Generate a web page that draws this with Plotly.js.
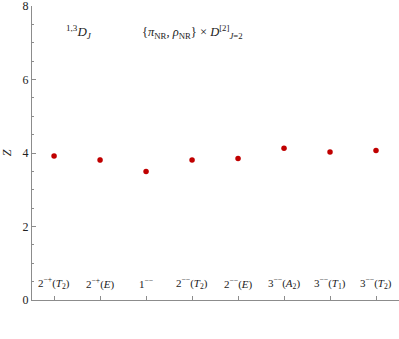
<!DOCTYPE html>
<html>
<head>
<meta charset="utf-8">
<script src="https://cdn.plot.ly/plotly-3.0.1.min.js"></script>
<style>body{margin:0;} #plot{width:399px;height:339px;}</style>
</head>
<body>
<div id="plot"></div>
<script>
var states = ['2<sup>−+</sup>(<i>T</i><sub>2</sub>)', '2<sup>−+</sup>(<i>E</i>)', '1<sup>−−</sup>',
  '2<sup>−−</sup>(<i>T</i><sub>2</sub>)', '2<sup>−−</sup>(<i>E</i>)', '3<sup>−−</sup>(<i>A</i><sub>2</sub>)',
  '3<sup>−−</sup>(<i>T</i><sub>1</sub>)', '3<sup>−−</sup>(<i>T</i><sub>2</sub>)'];
var zVals = [3.92, 3.81, 3.50, 3.81, 3.85, 4.13, 4.03, 4.07];
var zErr = [0.02, 0.04, 0.02, 0.02, 0.02, 0.02, 0.02, 0.02];
var yTicks = [0, 2, 4, 6, 8];
var xIdx = [];
for (i = 0; i < states.length; i++) {
  xIdx.push(i);
}

var serif = 'Liberation Serif, Times New Roman, serif';
var axisCol = '#8c8c8c';

var pts = {
  x: xIdx,
  y: zVals,
  mode: 'markers',
  type: 'scatter',
  marker: {color: '#c00000', size: 5.5},
  error_y: {type: 'data', array: zErr, color: '#c00000', thickness: 1.5, width: 1.5},
  showlegend: false
};

var notes = [];
for (i = 0; i < states.length; i++) {
  notes.push({
    x: xIdx[i], y: 0.46, xref: 'x', yref: 'y', text: states[i],
    showarrow: false, font: {family: serif, size: 11, color: '#222'}
  });
}
notes.push({
  x: 0.087, y: 0.91, xref: 'paper', yref: 'paper', xanchor: 'left', yanchor: 'middle',
  text: '<sup>1,3</sup><i>D<sub>J</sub></i>', showarrow: false,
  font: {family: serif, size: 13, color: '#222'}
});
notes.push({
  x: 0.294, y: 0.91, xref: 'paper', yref: 'paper', xanchor: 'left', yanchor: 'middle',
  text: '{<i>π</i><sub>NR</sub>, <i>ρ</i><sub>NR</sub>} × <i>D</i><sup>[2]</sup><sub><i>J</i>=2</sub>',
  showarrow: false, font: {family: serif, size: 12.5, color: '#222'}
});

var layout = {
  width: 399,
  height: 339,
  margin: {l: 32, r: 0, t: 6, b: 39},
  paper_bgcolor: 'white',
  plot_bgcolor: 'white',
  font: {family: serif, size: 12, color: '#222'},
  xaxis: {
    range: [-0.48, 7.5],
    autorange: false,
    showgrid: false,
    zeroline: false,
    showline: true,
    linecolor: axisCol,
    linewidth: 1,
    tickvals: xIdx,
    showticklabels: false,
    ticks: 'inside',
    ticklen: 4,
    tickcolor: axisCol
  },
  yaxis: {
    range: [0, 8],
    autorange: false,
    showgrid: false,
    zeroline: false,
    showline: true,
    linecolor: axisCol,
    linewidth: 1,
    tickmode: 'array',
    tickvals: yTicks,
    ticktext: yTicks.map(String),
    ticklabeloverflow: 'allow',
    ticks: 'inside',
    ticklen: 4,
    tickcolor: axisCol,
    tickfont: {family: serif, size: 12, color: '#222'},
    minor: {dtick: 0.5, ticks: 'inside', ticklen: 2, tickcolor: axisCol},
    title: {text: '<i>Z</i>', standoff: 10, font: {family: serif, size: 12, color: '#222'}}
  },
  annotations: notes
};

Plotly.newPlot('plot', [pts], layout, {displayModeBar: false, staticPlot: true});
</script>
</body>
</html>
